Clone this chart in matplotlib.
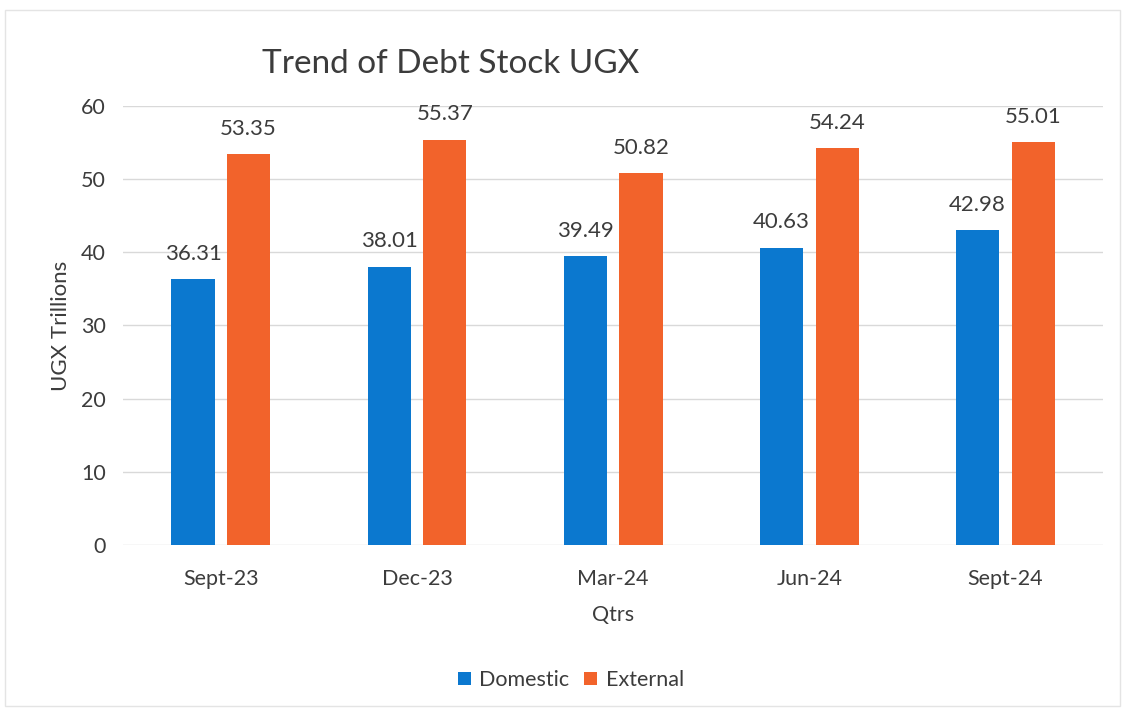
import numpy as np
import matplotlib.pyplot as plt
from matplotlib.patches import Rectangle

quarters = ["Sept-23", "Dec-23", "Mar-24", "Jun-24", "Sept-24"]
domestic = [36.31, 38.01, 39.49, 40.63, 42.98]
external = [53.35, 55.37, 50.82, 54.24, 55.01]

blue = "#0B78CF"
orange = "#F2632B"
text_col = "#3c3c3c"

plt.rcParams["font.family"] = ["Lato", "DejaVu Sans"]

fig = plt.figure(figsize=(11.26, 7.09), dpi=100)
ax = fig.add_axes([0.109, 0.231, 0.871, 0.62])

x = np.arange(len(quarters))
w = 0.22
off = 0.142

b1 = ax.bar(x - off, domestic, w, color=blue, label="Domestic", zorder=3)
b2 = ax.bar(x + off, external, w, color=orange, label="External", zorder=3)

# value labels above each bar
for bars, vals in ((b1, domestic), (b2, external)):
    for b, v in zip(bars, vals):
        ax.annotate(f"{v:.2f}", (b.get_x() + b.get_width() / 2, v),
                    xytext=(0, 11), textcoords="offset points",
                    ha="center", va="bottom", fontsize=16, color=text_col)

ax.set_xlim(-0.5, len(quarters) - 0.5)
ax.set_ylim(0, 60)
ax.set_yticks(range(0, 61, 10))
ax.set_xticks(x)
ax.set_xticklabels(quarters)
ax.tick_params(axis="both", length=0, labelsize=15.5, colors=text_col)
ax.tick_params(axis="x", pad=17)
ax.tick_params(axis="y", pad=12)
ax.grid(axis="y", color="#d9d9d9", linewidth=1, zorder=0)
for s in ax.spines.values():
    s.set_visible(False)

ax.set_xlabel("Qtrs", fontsize=15.5, color=text_col, labelpad=12)
ax.set_ylabel("UGX Trillions", fontsize=16, color=text_col, labelpad=7)

fig.text(0.4, 0.91, "Trend of Debt Stock UGX", ha="center", va="center",
         fontsize=24, color=text_col)

leg = fig.legend(loc="center", bbox_to_anchor=(0.507, 0.041), ncol=2,
                 frameon=False, fontsize=15.5, handlelength=0.6, handleheight=0.6,
                 handletextpad=0.4, columnspacing=0.7, labelcolor=text_col)

# thin frame round the chart area
fig.patches.append(Rectangle((0.004, 0.004), 0.991, 0.982, transform=fig.transFigure,
                             fill=False, edgecolor="#e4e4e4", linewidth=1))

fig.savefig("out.png", dpi=100, facecolor="white")
